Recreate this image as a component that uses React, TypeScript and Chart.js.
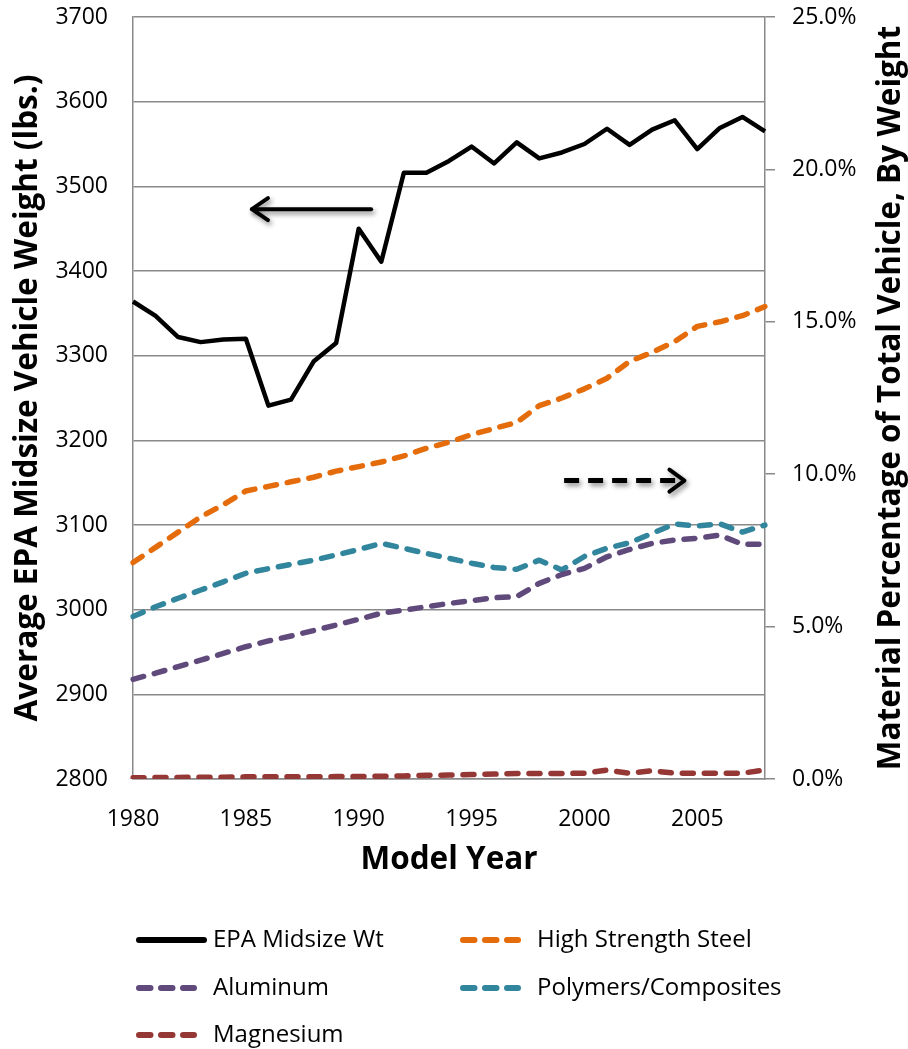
import React, { useEffect, useRef } from "react";
import { Chart, registerables } from "chart.js";
Chart.register(...registerables);

// ---------- data ----------
const years = [
  "1980","1981","1982","1983","1984","1985","1986","1987","1988","1989",
  "1990","1991","1992","1993","1994","1995","1996","1997","1998","1999",
  "2000","2001","2002","2003","2004","2005","2006","2007","2008",
];
const epaMidsizeWt = [
  3364, 3347, 3322, 3316, 3319, 3320, 3241, 3248, 3293, 3315,
  3450, 3411, 3516, 3516, 3530, 3547, 3527, 3552, 3533, 3540,
  3550, 3568, 3549, 3567, 3578, 3544, 3569, 3582, 3565,
];
const highStrengthSteel = [
  7.1, 7.6, 8.1, 8.6, 9.0, 9.45, 9.6, 9.75, 9.9, 10.1,
  10.25, 10.4, 10.6, 10.85, 11.05, 11.3, 11.5, 11.7, 12.25, 12.5,
  12.8, 13.15, 13.7, 14.0, 14.35, 14.85, 15.0, 15.2, 15.5,
];
const aluminum = [
  3.27, 3.47, 3.69, 3.9, 4.12, 4.34, 4.53, 4.69, 4.87, 5.05,
  5.24, 5.44, 5.54, 5.65, 5.76, 5.85, 5.95, 5.98, 6.42, 6.71,
  6.91, 7.29, 7.53, 7.73, 7.84, 7.9, 8.0, 7.7, 7.7,
];
const polymersComposites = [
  5.33, 5.65, 5.93, 6.2, 6.47, 6.75, 6.9, 7.04, 7.18, 7.35,
  7.53, 7.73, 7.57, 7.4, 7.24, 7.08, 6.94, 6.88, 7.18, 6.86,
  7.3, 7.57, 7.75, 8.06, 8.37, 8.3, 8.37, 8.1, 8.33,
];
const magnesium = [
  0.04, 0.05, 0.05, 0.06, 0.06, 0.07, 0.07, 0.07, 0.07, 0.08,
  0.08, 0.09, 0.1, 0.12, 0.13, 0.15, 0.16, 0.18, 0.18, 0.18,
  0.19, 0.29, 0.19, 0.27, 0.19, 0.19, 0.19, 0.19, 0.3,
];
const leftTicks = { min: 2800, max: 3700, step: 100 };
const rightTicks = { min: 0, max: 25, step: 5 };
// annotation arrows: [fromYear, toYear], level on their axis
const leftArrowYears = [1990.55, 1985.27];
const leftArrowLevel = 3473;
const rightArrowYears = [1999.1, 2004.43];
const rightArrowLevel = 9.79;

const seriesNames = ["EPA Midsize Wt", "High Strength Steel", "Aluminum", "Polymers/Composites", "Magnesium"];
const seriesColors = ["#000000", "#E46C0A", "#604A7B", "#31859C", "#953735"];
const leftTitle = "Average EPA Midsize Vehicle Weight (lbs.)";
const rightTitle = "Material Percentage of Total Vehicle, By Weight";
const xTitle = "Model Year";

const FONT = "'Open Sans', 'DejaVu Sans', sans-serif";
const GRID = "#898989";

const arrowPlugin = {
  id: "arrowNotes",
  afterDatasetsDraw(chart: any) {
    const { ctx, scales } = chart;
    const xs = scales.x, yl = scales.y, yr = scales.y2;
    const px = (yr: number) => xs.getPixelForValue(yr - Number(years[0]));
    ctx.save();
    ctx.shadowColor = "rgba(0,0,0,0.45)";
    ctx.shadowBlur = 5;
    ctx.shadowOffsetX = 2;
    ctx.shadowOffsetY = 3;
    ctx.strokeStyle = "#000";
    ctx.lineCap = "round";
    ctx.lineJoin = "round";
    // solid arrow (left)
    let x0 = px(leftArrowYears[0]), x1 = px(leftArrowYears[1]);
    let y = yl.getPixelForValue(leftArrowLevel);
    ctx.lineWidth = 4;
    ctx.beginPath();
    ctx.moveTo(x0, y);
    ctx.lineTo(x1, y);
    ctx.stroke();
    ctx.beginPath();
    ctx.moveTo(x1 + 16, y - 11);
    ctx.lineTo(x1, y);
    ctx.lineTo(x1 + 16, y + 11);
    ctx.stroke();
    // dashed arrow (right)
    x0 = px(rightArrowYears[0]);
    x1 = px(rightArrowYears[1]);
    y = yr.getPixelForValue(rightArrowLevel);
    ctx.lineWidth = 5;
    ctx.lineCap = "butt";
    ctx.setLineDash([15, 9]);
    ctx.beginPath();
    ctx.moveTo(x0, y);
    ctx.lineTo(x1 - 3, y);
    ctx.stroke();
    ctx.setLineDash([]);
    ctx.lineWidth = 4;
    ctx.lineCap = "round";
    ctx.beginPath();
    ctx.moveTo(x1 - 15, y - 11);
    ctx.lineTo(x1, y);
    ctx.lineTo(x1 - 15, y + 11);
    ctx.stroke();
    ctx.restore();
  },
};

const decorPlugin = {
  id: "decor",
  afterDraw(chart: any) {
    const { ctx, chartArea } = chart;
    const midY = (chartArea.top + chartArea.bottom) / 2;
    ctx.save();
    // axis titles (vertical)
    ctx.fillStyle = "#000";
    ctx.font = `bold 31.5px ${FONT}`;
    ctx.textAlign = "center";
    ctx.textBaseline = "alphabetic";
    ctx.save();
    ctx.translate(37, midY);
    ctx.rotate(-Math.PI / 2);
    ctx.fillText(leftTitle, 0, 0);
    ctx.restore();
    ctx.save();
    ctx.translate(900, midY);
    ctx.rotate(-Math.PI / 2);
    ctx.fillText(rightTitle, 0, 0);
    ctx.restore();
    // legend
    const cols = [136, 460];
    const rows = [940, 988, 1035];
    ctx.font = `24px ${FONT}`;
    ctx.textAlign = "left";
    ctx.textBaseline = "middle";
    seriesNames.forEach((name, i) => {
      const cx = cols[i % 2];
      const cy = rows[Math.floor(i / 2)];
      ctx.strokeStyle = seriesColors[i];
      ctx.lineCap = "round";
      ctx.lineWidth = 6;
      ctx.beginPath();
      if (i === 0) {
        ctx.setLineDash([]);
        ctx.moveTo(cx + 3, cy);
        ctx.lineTo(cx + 68, cy);
      } else {
        ctx.setLineDash([11.5, 10.5]);
        ctx.moveTo(cx + 3, cy);
        ctx.lineTo(cx + 58, cy);
      }
      ctx.stroke();
      ctx.setLineDash([]);
      ctx.fillStyle = "#000";
      ctx.fillText(name, cx + 77, cy);
    });
    ctx.restore();
  },
};

const zeroPad = (s: any) => {
  s.paddingTop = 0;
  s.paddingBottom = 0;
};

export default function App() {
  const ref = useRef<HTMLCanvasElement>(null);
  useEffect(() => {
    if (!ref.current) return;
    Chart.defaults.font.family = FONT;
    const mk = (i: number, data: number[], axis: string, dashed: boolean) => ({
      label: seriesNames[i],
      data,
      yAxisID: axis,
      borderColor: seriesColors[i],
      backgroundColor: seriesColors[i],
      borderWidth: dashed ? 5.5 : 4.5,
      borderDash: dashed ? [11, 11] : [],
      borderCapStyle: dashed ? "round" : "butt",
      borderJoinStyle: "round",
      pointRadius: 0,
      tension: 0,
      fill: false,
    });
    const chart = new Chart(ref.current, {
      type: "line",
      data: {
        labels: years,
        datasets: [
          mk(4, magnesium, "y2", true),
          mk(2, aluminum, "y2", true),
          mk(3, polymersComposites, "y2", true),
          mk(1, highStrengthSteel, "y2", true),
          mk(0, epaMidsizeWt, "y", false),
        ] as any,
      },
      options: {
        animation: false,
        responsive: false,
        maintainAspectRatio: false,
        layout: { padding: { left: 0, right: 0, top: 17, bottom: 170 } },
        plugins: { legend: { display: false }, tooltip: { enabled: false } },
        scales: {
          x: {
            type: "category",
            offset: false,
            grid: { display: false, drawTicks: false },
            border: { display: true, color: GRID, width: 1.5 },
            ticks: {
              autoSkip: false,
              maxRotation: 0,
              padding: 27,
              color: "#000",
              font: { size: 23, family: FONT },
              callback: (_v: any, i: number) => (i % 5 === 0 ? years[i] : ""),
            },
            title: {
              display: true,
              text: xTitle,
              color: "#000",
              font: { size: 31.5, weight: "bold", family: FONT },
              padding: { top: 0, bottom: 0 },
            },
            afterFit: (s: any) => {
              s.height = 100;
              s.paddingLeft = 0;
              s.paddingRight = 0;
            },
          },
          y: {
            position: "left",
            min: leftTicks.min,
            max: leftTicks.max,
            grid: { color: GRID, lineWidth: 1.5, drawTicks: false },
            border: { display: true, color: GRID, width: 1.5 },
            ticks: {
              stepSize: leftTicks.step,
              padding: 25,
              color: "#000",
              font: { size: 23, family: FONT },
              callback: (v: any) => String(v),
            },
            afterFit: (s: any) => {
              s.width = 133;
              zeroPad(s);
            },
          },
          y2: {
            position: "right",
            min: rightTicks.min,
            max: rightTicks.max,
            grid: { drawOnChartArea: false, drawTicks: true, tickLength: 10, color: GRID, lineWidth: 1.5 },
            border: { display: true, color: GRID, width: 1.5 },
            ticks: {
              stepSize: rightTicks.step,
              padding: 17,
              color: "#000",
              font: { size: 23, family: FONT },
              callback: (v: any) => Number(v).toFixed(1) + "%",
            },
            afterFit: (s: any) => {
              s.width = 143;
              zeroPad(s);
            },
          },
        },
      } as any,
      plugins: [arrowPlugin, decorPlugin],
    });
    return () => chart.destroy();
  }, []);
  return (
    <div style={{ position: "absolute", left: 0, top: 0, width: 908, height: 1049, background: "#fff" }}>
      <canvas ref={ref} width={908} height={1049} style={{ width: 908, height: 1049, display: "block" }} />
    </div>
  );
}
